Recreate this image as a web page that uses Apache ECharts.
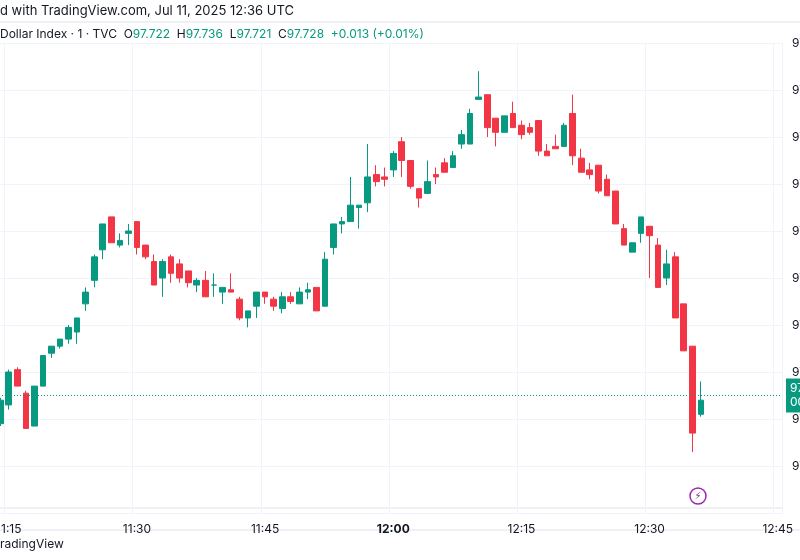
<!DOCTYPE html>
<html>
<head>
<meta charset="utf-8">
<script src="https://cdn.jsdelivr.net/npm/echarts@6/dist/echarts.min.js"></script>
<style>
  html, body { margin: 0; padding: 0; background: #fff; }
  #main { width: 800px; height: 560px; }
</style>
</head>
<body>
<div id="main"></div>
<script>
// 1-minute candles, 11:14 .. 12:36 UTC
let opens  = [97.718,97.726,97.741,97.731,97.717,97.734,97.748,97.751,97.754,97.757,97.769,97.779,97.792,97.806,97.794,97.799,97.804,97.794,97.787,97.780,97.789,97.786,97.783,97.777,97.779,97.777,97.774,97.775,97.771,97.763,97.768,97.774,97.771,97.767,97.772,97.769,97.774,97.776,97.768,97.793,97.803,97.804,97.810,97.812,97.824,97.823,97.826,97.838,97.830,97.818,97.816,97.824,97.829,97.827,97.837,97.837,97.856,97.858,97.848,97.842,97.850,97.845,97.844,97.847,97.834,97.836,97.836,97.850,97.831,97.826,97.828,97.822,97.817,97.801,97.791,97.799,97.802,97.794,97.780,97.789,97.769,97.751,97.722]
let closes = [97.728,97.740,97.734,97.716,97.734,97.747,97.751,97.754,97.759,97.763,97.774,97.789,97.803,97.795,97.796,97.800,97.793,97.789,97.777,97.787,97.782,97.780,97.778,97.779,97.772,97.777,97.776,97.774,97.763,97.766,97.774,97.772,97.768,97.772,97.770,97.774,97.775,97.766,97.788,97.803,97.804,97.811,97.811,97.823,97.821,97.822,97.833,97.830,97.819,97.814,97.821,97.823,97.825,97.832,97.841,97.850,97.857,97.844,97.842,97.849,97.844,97.841,97.842,97.834,97.832,97.835,97.845,97.832,97.825,97.824,97.817,97.815,97.803,97.794,97.795,97.806,97.798,97.776,97.786,97.763,97.749,97.714,97.728]
let highs  = [97.729,97.741,97.742,97.732,97.734,97.747,97.751,97.754,97.760,97.763,97.776,97.790,97.803,97.806,97.799,97.803,97.804,97.794,97.790,97.788,97.790,97.788,97.783,97.780,97.783,97.782,97.776,97.782,97.772,97.766,97.774,97.774,97.772,97.774,97.774,97.776,97.778,97.776,97.791,97.803,97.806,97.823,97.811,97.837,97.828,97.827,97.834,97.840,97.830,97.818,97.830,97.827,97.831,97.834,97.843,97.852,97.868,97.858,97.848,97.849,97.855,97.847,97.846,97.847,97.837,97.841,97.846,97.858,97.835,97.829,97.828,97.824,97.817,97.803,97.795,97.806,97.802,97.797,97.792,97.791,97.769,97.751,97.736]
let lows   = [97.717,97.724,97.734,97.716,97.717,97.734,97.746,97.750,97.752,97.752,97.766,97.776,97.788,97.795,97.793,97.794,97.790,97.788,97.777,97.772,97.778,97.778,97.776,97.774,97.772,97.772,97.769,97.774,97.762,97.759,97.763,97.769,97.766,97.765,97.769,97.769,97.771,97.766,97.768,97.790,97.799,97.804,97.801,97.808,97.819,97.819,97.823,97.823,97.818,97.810,97.816,97.820,97.825,97.827,97.835,97.837,97.856,97.840,97.836,97.842,97.844,97.839,97.841,97.832,97.832,97.835,97.836,97.828,97.825,97.822,97.816,97.815,97.803,97.794,97.791,97.795,97.780,97.776,97.777,97.763,97.749,97.706,97.721]
let lastPrice = 97.728

// minute categories from 11:14 to 12:45
let categories = []
for (let m = 14; m < 14 + 92; m++) {
  let h = 11 + Math.floor(m / 60)
  let mm = m % 60
  categories.push(h + ':' + (mm < 10 ? '0' + mm : mm))
}

let candleData = []
for (let i = 0; i < opens.length; i++) {
  candleData.push([opens[i], closes[i], lows[i], highs[i]])
}

const GREEN = '#089981'
const RED = '#F23645'
const TEXT = '#131722'
const FONT = 'Inter, "Noto Sans", sans-serif'

function isQuarter(idx) {
  return parseInt(categories[idx].split(':')[1]) % 15 === 0
}

let chart = echarts.init(document.getElementById('main'))

let option = {
  backgroundColor: '#ffffff',
  animation: false,
  textStyle: { fontFamily: FONT },
  grid: { left: -4, right: 18, top: 43, bottom: 47, outerBoundsMode: 'none', containLabel: false },
  xAxis: {
    type: 'category',
    data: categories,
    boundaryGap: true,
    axisLine: { show: false },
    axisTick: { show: false },
    axisLabel: {
      interval: function (idx) { return isQuarter(idx) },
      color: TEXT,
      fontSize: 12,
      margin: 10,
      formatter: function (v) {
        return v === '12:00' ? '{b|' + v + '}' : v
      },
      rich: { b: { fontWeight: 'bold', color: TEXT, fontSize: 12 } }
    },
    splitLine: {
      show: true,
      interval: function (idx) { return isQuarter(idx) },
      lineStyle: { color: '#f0f3fa' }
    }
  },
  yAxis: {
    type: 'value',
    position: 'right',
    min: 97.68,
    max: 97.88,
    interval: 0.02,
    axisLine: { show: false },
    axisTick: { show: false },
    axisLabel: { color: TEXT, fontSize: 12, margin: 10, showMinLabel: false },
    splitLine: { lineStyle: { color: '#f0f3fa' } }
  },
  series: [
    {
      type: 'candlestick',
      data: candleData,
      barWidth: '72%',
      itemStyle: {
        color: GREEN,
        color0: RED,
        borderColor: GREEN,
        borderColor0: RED,
        borderWidth: 1
      },
      markLine: {
        symbol: 'none',
        silent: true,
        lineStyle: { color: GREEN, type: [1, 2], width: 1 },
        label: {
          position: 'end',
          distance: 4,
          formatter: lastPrice.toFixed(3) + '\n00:23',
          color: '#fff',
          backgroundColor: GREEN,
          padding: [3, 4],
          fontSize: 12,
          lineHeight: 14
        },
        data: [{ yAxis: lastPrice }]
      }
    }
  ],
  graphic: [
    {
      type: 'text', left: 0, top: 5,
      style: { text: 'd with TradingView.com, Jul 11, 2025 12:36 UTC', fill: TEXT, font: '13px ' + FONT }
    },
    {
      type: 'line', shape: { x1: 0, y1: 22, x2: 800, y2: 22 }, style: { stroke: '#e0e3eb' }
    },
    {
      type: 'text', left: 0, top: 28,
      style: {
        text: '{k|Dollar Index · 1 · TVC}  {k|O}{g|97.722}  {k|H}{g|97.736}  {k|L}{g|97.721}  {k|C}{g|97.728}  {g|+0.013 (+0.01%)}',
        font: '12px ' + FONT,
        rich: {
          k: { fill: TEXT, font: '12px ' + FONT },
          g: { fill: GREEN, font: '12px ' + FONT }
        }
      }
    },
    {
      type: 'line', shape: { x1: 0, y1: 508, x2: 782, y2: 508 }, style: { stroke: '#e0e3eb' }
    },
    {
      type: 'line', shape: { x1: 0, y1: 530, x2: 800, y2: 530 }, style: { stroke: '#e0e3eb' }
    },
    {
      type: 'text', left: 0, top: 538,
      style: { text: 'radingView', fill: TEXT, font: '12px ' + FONT }
    },
    {
      type: 'circle', shape: { cx: 698, cy: 496, r: 8 },
      style: { fill: '#fff', stroke: '#9c27b0', lineWidth: 1.5 }
    },
    {
      type: 'text', x: 698, y: 496,
      style: { text: '⚡', fill: '#9c27b0', font: '10px "DejaVu Sans"', align: 'center', verticalAlign: 'middle' }
    }
  ]
}

chart.setOption(option)
</script>
</body>
</html>
